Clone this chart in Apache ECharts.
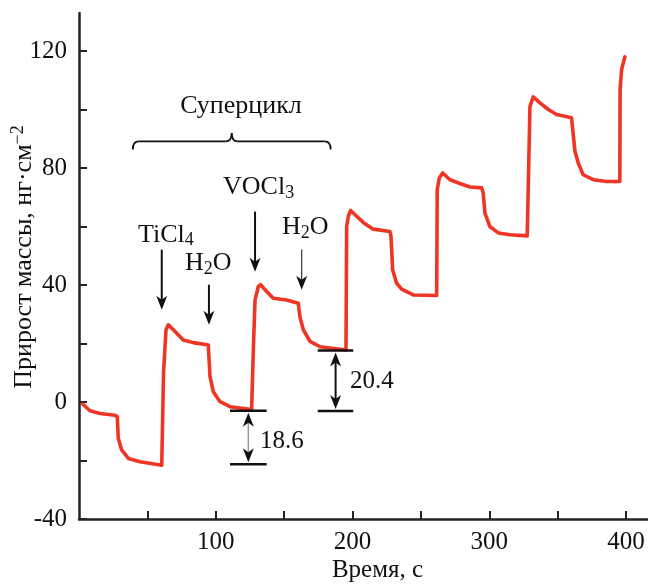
<!DOCTYPE html>
<html>
<head>
<meta charset="utf-8">
<script src="https://cdn.jsdelivr.net/npm/echarts@6/dist/echarts.min.js"></script>
<style>
html,body{margin:0;padding:0;background:#fff;}
#c{width:648px;height:585px;}
</style>
</head>
<body>
<div id="c"></div>
<script>
// ---- data ----
const timeS = [2.7, 8.0, 15.4, 26.3, 28.0, 28.7, 31.2, 36.1, 44.6, 60.5, 61.5, 61.8, 63.6, 65.3, 70.2, 76.2, 83.6, 94.5, 95.3, 95.8, 98.2, 103.1, 110.4, 126.2, 127.4, 127.6, 128.7, 131.1, 132.8, 137.2, 142.0, 151.8, 160.3, 161.5, 164.0, 168.9, 176.2, 195.2, 195.7, 196.9, 198.6, 203.0, 207.8, 215.1, 227.3, 228.1, 229.3, 232.2, 235.9, 244.4, 261.5, 261.9, 263.4, 265.9, 271.2, 278.5, 285.8, 294.4, 295.5, 296.8, 300.4, 306.5, 315.1, 327.7, 328.4, 329.7, 332.1, 337.0, 343.1, 349.2, 360.1, 361.3, 362.6, 365.0, 368.6, 376.0, 385.7, 395.4, 395.6, 396.7, 399.1];
const massGain = [-0.7, -3.0, -3.9, -4.5, -5.0, -12.4, -16.4, -19.3, -20.4, -21.6, -21.6, 10, 24.7, 26.4, 24.1, 21.2, 20.3, 19.5, 18.9, 8.7, 3.5, 0.1, -1.6, -2.6, -2.8, 20, 34.9, 39.5, 40.1, 37.8, 35.5, 34.9, 33.8, 29.2, 24.7, 20.7, 18.9, 17.8, 60.0, 63.5, 65.5, 63.5, 61.4, 59.1, 58.3, 56.6, 45.2, 40.6, 38.6, 36.6, 36.4, 72.6, 76.6, 78.3, 76.0, 74.7, 73.5, 73.2, 71.5, 64.6, 60.0, 57.8, 57.2, 56.8, 56.8, 101.1, 104.3, 102.3, 100.0, 98.3, 97.2, 96.6, 85.7, 81.7, 77.7, 76.0, 75.4, 75.4, 106.8, 113.7, 118.0];
const xTickValues = [50, 100, 150, 200, 250, 300, 350, 400];
const xLabelValues = [100, 200, 300, 400];
const yTickValues = [-40, -20, 0, 20, 40, 60, 80, 100, 120];
const yLabelValues = [-40, 0, 40, 80, 120];

// annotations in data coordinates
const precursorLabels = [
  {text: '{a|TiCl}{b|4}', t: 43.1, v: 57.2},
  {text: '{a|H}{b|2}{a|O}', t: 77.5, v: 47.3},
  {text: '{a|VOCl}{b|3}', t: 105.3, v: 73.3},
  {text: '{a|H}{b|2}{a|O}', t: 148.4, v: 59.9}
];
const pulseArrows = [ // [t, vFrom, vTo, thin]
  [60.5, 52.1, 31.5, false],
  [95.0, 40.1, 26.4, false],
  [128.7, 65.1, 44.5, false],
  [162.8, 52.1, 38.4, true]
];
const stepValues = ['18.6', '20.4'];
const steps = [ // tLeft, tRight, tArrow, vTop, vBottom, labelT, labelV, thin
  [110.4, 137.2, 123.8, -3.0, -21.3, 132.3, -13.4, true],
  [174.5, 200.5, 187.6, 17.6, -3.1, 198.1, 7.2, false]
];
const braceSpan = [39.3, 184.0, 89.1, 86.3, 92.0]; // tLeft, tRight, vLine, vEnds, vCusp
const braceTitle = {text: 'Суперцикл', t: 118.4, v: 101};

const serif = '"Liberation Serif", "DejaVu Serif", serif';
const chart = echarts.init(document.getElementById('c'), null, {renderer: 'canvas'});
const data = timeS.map((t, i) => [t, massGain[i]]);

chart.setOption({
  animation: false,
  backgroundColor: '#fff',
  grid: {left: 79, right: 0, top: 13, bottom: 66, containLabel: false, outerBoundsMode: 'none'},
  xAxis: {
    type: 'value', min: 0, max: 416,
    name: 'Время, с', nameLocation: 'middle', nameGap: 39, nameMoveOverlap: false,
    nameTextStyle: {fontFamily: serif, fontSize: 25, color: '#111', padding: [0, 0, 0, 28]},
    axisLine: {show: true, onZero: false, lineStyle: {color: '#222', width: 2.5}},
    axisTick: {show: true, inside: true, length: 8, lineStyle: {color: '#222', width: 2}, customValues: xTickValues},
    axisLabel: {fontFamily: serif, fontSize: 25, color: '#111', margin: 11, customValues: xLabelValues},
    splitLine: {show: false}
  },
  yAxis: {
    type: 'value', min: -40, max: 133,
    name: '{a|Прирост массы, нг·см}{s|−2}', nameLocation: 'middle', nameGap: 40, nameRotate: 90,
    nameMoveOverlap: false,
    nameTextStyle: {fontFamily: serif, color: '#111', padding: [0, 0, 0, 18],
      rich: {a: {fontFamily: serif, fontSize: 26, color: '#111', lineHeight: 30},
             s: {fontFamily: serif, fontSize: 18, color: '#111', lineHeight: 17, verticalAlign: 'top'}}},
    axisLine: {show: true, onZero: false, lineStyle: {color: '#222', width: 2.5}},
    axisTick: {show: true, inside: true, length: 8, lineStyle: {color: '#222', width: 2}, customValues: yTickValues},
    axisLabel: {fontFamily: serif, fontSize: 25, color: '#111', margin: 12, customValues: yLabelValues},
    splitLine: {show: false}
  },
  series: [{
    type: 'line', data: data, showSymbol: false, symbol: 'none',
    lineStyle: {color: '#ef3524', width: 3.6, join: 'round', cap: 'round'},
    z: 3
  }]
});

function px(t, v) { return chart.convertToPixel({xAxisIndex: 0, yAxisIndex: 0}, [t, v]); }
function headDown(x, y) { return [[x, y], [x - 5.5, y - 14], [x, y - 10], [x + 5.5, y - 14]]; }
function headUp(x, y) { return [[x, y], [x - 5.5, y + 14], [x, y + 10], [x + 5.5, y + 14]]; }

const g = [];
const labRich = {
  a: {fontFamily: serif, fontSize: 26, fill: '#111', lineHeight: 30},
  b: {fontFamily: serif, fontSize: 18, fill: '#111', lineHeight: 16, verticalAlign: 'bottom'}
};
precursorLabels.forEach(l => {
  const p = px(l.t, l.v);
  g.push({type: 'text', x: p[0], y: p[1], z: 10,
    style: {text: l.text, rich: labRich, align: 'left', verticalAlign: 'middle', fill: '#111'}});
});
pulseArrows.forEach(a => {
  const p1 = px(a[0], a[1]), p2 = px(a[0], a[2]);
  g.push({type: 'line', z: 10, shape: {x1: p1[0], y1: p1[1], x2: p2[0], y2: p2[1] - 8},
    style: {stroke: a[3] ? '#333' : '#111', lineWidth: a[3] ? 1.2 : 2}});
  g.push({type: 'polygon', z: 10, shape: {points: headDown(p2[0], p2[1])}, style: {fill: '#111'}});
});
steps.forEach((s, i) => {
  const a = px(s[0], s[3]), b = px(s[1], s[3]), c = px(s[0], s[4]), d = px(s[1], s[4]);
  g.push({type: 'line', z: 10, shape: {x1: a[0], y1: a[1], x2: b[0], y2: b[1]}, style: {stroke: '#111', lineWidth: 2.5}});
  g.push({type: 'line', z: 10, shape: {x1: c[0], y1: c[1], x2: d[0], y2: d[1]}, style: {stroke: '#111', lineWidth: 2.5}});
  const top = px(s[2], s[3]), bot = px(s[2], s[4]);
  const yt = top[1] + 2, yb = bot[1] - 2;
  g.push({type: 'line', z: 10, shape: {x1: top[0], y1: yt + 8, x2: bot[0], y2: yb - 8},
    style: {stroke: s[7] ? '#999' : '#111', lineWidth: s[7] ? 1.5 : 2}});
  g.push({type: 'polygon', z: 10, shape: {points: headUp(top[0], yt)}, style: {fill: '#111'}});
  g.push({type: 'polygon', z: 10, shape: {points: headDown(bot[0], yb)}, style: {fill: '#111'}});
  const lp = px(s[5], s[6]);
  g.push({type: 'text', x: lp[0], y: lp[1], z: 10,
    style: {text: stepValues[i], font: '25px ' + serif, fill: '#111', align: 'left', verticalAlign: 'middle'}});
});
// brace
(function () {
  const L = px(braceSpan[0], braceSpan[2]), R = px(braceSpan[1], braceSpan[2]);
  const E = px(braceSpan[0], braceSpan[3]), C = px((braceSpan[0] + braceSpan[1]) / 2, braceSpan[4]);
  const y = L[1], ye = E[1], yc = C[1], xl = L[0], xr = R[0], xc = C[0];
  const r = 6;
  const st = {stroke: '#111', lineWidth: 1.8, fill: null};
  g.push({type: 'bezierCurve', z: 10, shape: {x1: xl, y1: ye, cpx1: xl, cpy1: y, x2: xl + r, y2: y}, style: st});
  g.push({type: 'line', z: 10, shape: {x1: xl + r, y1: y, x2: xc - r, y2: y}, style: st});
  g.push({type: 'bezierCurve', z: 10, shape: {x1: xc - r, y1: y, cpx1: xc, cpy1: y, x2: xc, y2: yc}, style: st});
  g.push({type: 'bezierCurve', z: 10, shape: {x1: xc, y1: yc, cpx1: xc, cpy1: y, x2: xc + r, y2: y}, style: st});
  g.push({type: 'line', z: 10, shape: {x1: xc + r, y1: y, x2: xr - r, y2: y}, style: st});
  g.push({type: 'bezierCurve', z: 10, shape: {x1: xr - r, y1: y, cpx1: xr, cpy1: y, x2: xr, y2: ye}, style: st});
  const tp = px(braceTitle.t, braceTitle.v);
  g.push({type: 'text', x: tp[0], y: tp[1], z: 10,
    style: {text: braceTitle.text, font: '26px ' + serif, fill: '#111', align: 'center', verticalAlign: 'middle'}});
})();
chart.setOption({graphic: g});
</script>
</body>
</html>
